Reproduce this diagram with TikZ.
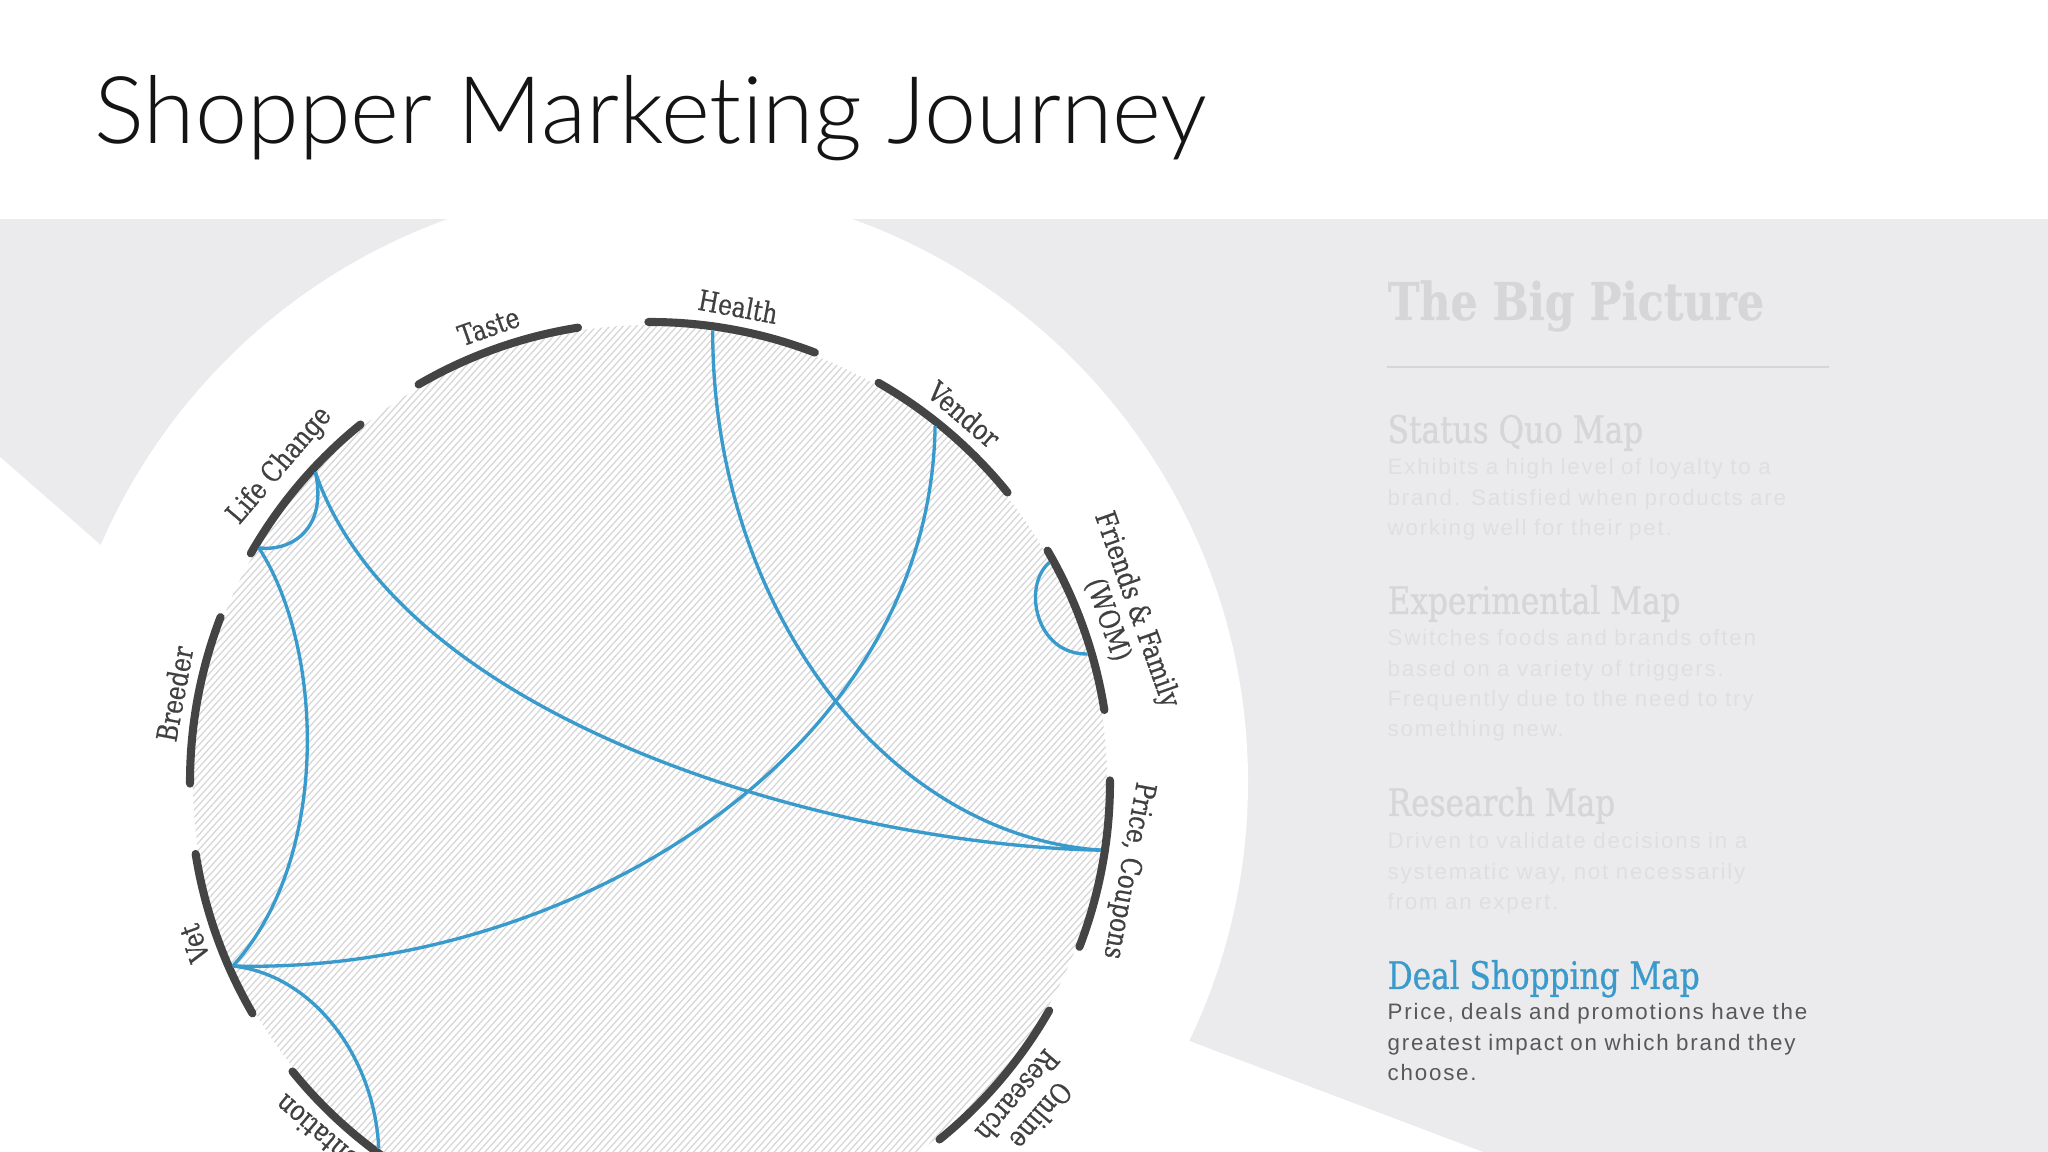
\documentclass[tikz,border=0pt]{standalone}
\usepackage{fontspec}
\setmainfont{Liberation Sans}
\newfontfamily\titlefont{Lato Light}[Ligatures=NoCommon]
\newfontfamily\slabfont{DejaVu Serif}[FakeStretch=0.82, FakeBold=0.5]
\newfontfamily\headfont{DejaVu Serif}[FakeStretch=0.82, FakeBold=0.8]
\newfontfamily\bodyfont{Liberation Sans}[LetterSpace=8]

\definecolor{panelgray}{RGB}{235,234,236}
\definecolor{hatchgray}{RGB}{214,214,216}
\definecolor{arcgray}{RGB}{68,68,68}
\definecolor{labelgray}{RGB}{64,64,64}
\definecolor{chordblue}{RGB}{57,154,204}
\definecolor{fadedhead}{RGB}{214,214,216}
\definecolor{fadedbody}{RGB}{223,222,224}
\definecolor{bodygray}{RGB}{88,88,88}
\definecolor{titleblack}{RGB}{20,20,20}

\begin{document}
\begin{tikzpicture}[x=0.01cm, y=0.01cm,
    seg/.style={draw=arcgray, line width=2.3pt, line cap=round},
    chord/.style={draw=chordblue, line width=0.95pt},
    hatchline/.style={draw=hatchgray, line width=0.35pt},
    lbl/.style={font=\slabfont\fontsize{8.1pt}{8.8pt}\selectfont, text=labelgray,
        inner sep=0pt, anchor=south, align=center},
    maphead/.style={font=\headfont\fontsize{10.8pt}{12pt}\selectfont, text=fadedhead,
        inner sep=0pt, anchor=base west},
    mapbody/.style={font=\bodyfont\fontsize{6.35pt}{8.54pt}\selectfont, text=fadedbody,
        inner sep=0pt, anchor=base west, text width=4.6cm, align=left}]

\useasboundingbox (0,0) rectangle (2048,1152);

% background
\fill[panelgray] (0,0) rectangle (2048,933);
\fill[white] (0,695) -- (103,605) -- (650,370) -- (1192,110) -- (1483,0) -- (0,0) -- cycle;
\coordinate (c) at (650,370);  % centre
\fill[white] (c) circle[radius=598];

% hatched disc
\begin{scope}[shift={(c)}, rotate=-42]
\clip (0,0) circle[radius=457];
\foreach \i in {-460,-455,...,460}
    \draw[hatchline] (\i,-470) -- (\i,470);
\end{scope}

% segments
\foreach \k in {0,1,2,3,4,5,6,7,8,11} {
    \pgfmathsetmacro\sa{30*\k-21.0}
    \pgfmathsetmacro\ea{30*\k+0.2}
    \draw[seg] ([shift={(c)}]\sa:460) arc[start angle=\sa, end angle=\ea, radius=460];
}

% labels
\foreach \k/\txt in {0/{Price, Coupons}, 1/{Friends \& Family\\(WOM)}, 2/Vendor,
        3/Health, 4/Taste, 5/Life Change, 6/Breeder, 7/Vet, 8/Presentation,
        11/{Online\\Research}} {
    \pgfmathsetmacro\ang{30*\k-10.5}
    \node[lbl, rotate=\ang-90] (lbl\k) at ([shift={(c)}]\ang:472) {\txt};
}

% chord ends
\coordinate (health) at (712.7,821.7);     % Health
\coordinate (vendor) at (935.1,725.9);     % Vendor
\coordinate (friendsa) at (1049.6,589.7);  % Friends & Family
\coordinate (friendsb) at (1087.7,498.0);  % Friends & Family
\coordinate (price) at (1100.9,301.8);     % Price, Coupons
\coordinate (lifea) at (315.4,679.8);      % Life Change
\coordinate (lifeb) at (258.8,604.2);      % Life Change
\coordinate (vet) at (232.8,186.0);        % Vet
\coordinate (present) at (378.7,3.5);      % Presentation

\draw[chord] (health) .. controls (712,552) and (880,317) .. (price);
\draw[chord] (lifea) .. controls (400,432) and (830,307) .. (price);
\draw[chord] (vendor) .. controls (930,392) and (560,177) .. (vet);
\draw[chord] (lifeb) .. controls (325,502) and (330,292) .. (vet);
\draw[chord] (lifea) .. controls (328,622) and (290,600) .. (lifeb);
\draw[chord] (friendsa) .. controls (1022,567) and (1035,497) .. (friendsb);
\draw[chord] (vet) .. controls (315,177) and (375,92) .. (present);

% side panel
\node[maphead, font=\slabfont\bfseries\fontsize{14.8pt}{16pt}\selectfont] (bigpic) at (1387,832) {The Big Picture};
\draw[fadedhead, line width=0.6pt] (1387,785) -- (1829,785);

\node[maphead] (statushead) at (1387,709) {Status Quo Map};
\node[mapbody] (statusbody) at (1387,677) {Exhibits a high level of loyalty to a\\
    brand. Satisfied when products are\\working well for their pet.};

\node[maphead] (exphead) at (1387,538) {Experimental Map};
\node[mapbody] (expbody) at (1387,506) {Switches foods and brands often\\
    based on a variety of triggers.\\Frequently due to the need to try\\something new.};

\node[maphead] (reshead) at (1387,336) {Research Map};
\node[mapbody] (resbody) at (1387,303) {Driven to validate decisions in a\\
    systematic way, not necessarily\\from an expert.};

\node[maphead, text=chordblue] (dealhead) at (1387,163) {Deal Shopping Map};
\node[mapbody, text=bodygray] (dealbody) at (1387,132) {Price, deals and promotions have the\\
    greatest impact on which brand they\\choose.};

% title
\node[anchor=base west, inner sep=0pt, text=titleblack,
    font=\titlefont\fontsize{26.6pt}{30pt}\selectfont] (title) at (94,1008) {Shopper Marketing Journey};

\end{tikzpicture}
\end{document}
